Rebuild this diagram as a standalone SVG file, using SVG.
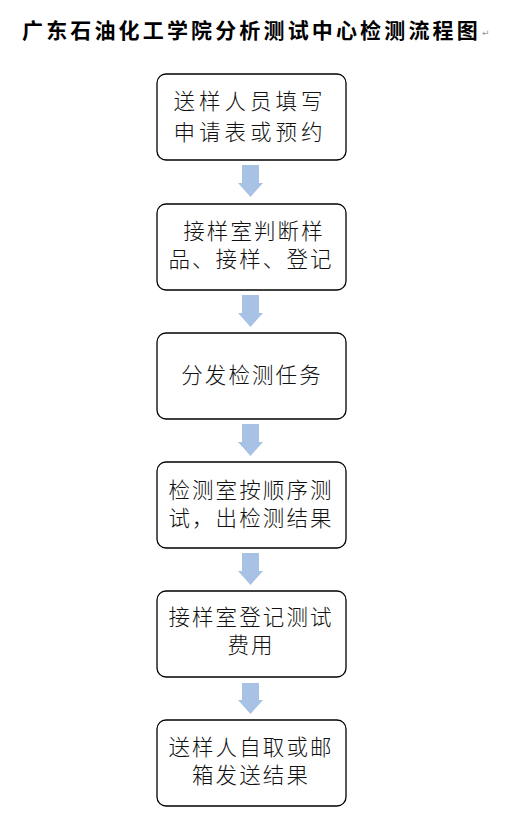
<svg xmlns="http://www.w3.org/2000/svg" width="507" height="831" viewBox="0 0 507 831">
<style>
.box{fill:#fff;stroke:#000;stroke-width:1.3}
.t{font-family:"Noto Sans CJK SC","Noto Sans",sans-serif;font-size:21.5px;fill:#111;text-anchor:middle;font-weight:300}
.arr{fill:#a8c2e6}
.title{font-family:"Noto Sans CJK SC","Noto Sans",sans-serif;font-size:21px;font-weight:bold;fill:#000;letter-spacing:3.15px}
</style>
<rect width="507" height="831" fill="#fff"/>
<g id="title">
<text class="title" x="22" y="38">广东石油化工学院分析测试中心检测流程图</text>
<text x="482" y="36" font-family="'DejaVu Sans',sans-serif" font-size="9" fill="#999">↵</text>
</g>
<g id="connectors">
<polygon class="arr" points="242,165 259,165 259,183 263,183 250.5,197 238,183 242,183"/>
<polygon class="arr" points="242,295 259,295 259,313 263,313 250.5,327 238,313 242,313"/>
<polygon class="arr" points="242,424 259,424 259,442 263,442 250.5,456 238,442 242,442"/>
<polygon class="arr" points="242,553 259,553 259,571 263,571 250.5,585 238,571 242,571"/>
<polygon class="arr" points="242,683 259,683 259,700 263,700 250.5,714 238,700 242,700"/>
</g>
<g id="n1">
<rect class="box" x="157" y="74" width="189" height="86" rx="9"/>
<text class="t" x="250" y="109" letter-spacing="4">送样人员填写</text>
<text class="t" x="250" y="140" letter-spacing="4">申请表或预约</text>
</g>
<g id="n2">
<rect class="box" x="157" y="204" width="189" height="86" rx="9"/>
<text class="t" x="254" y="239" letter-spacing="2.1">接样室判断样</text>
<text class="t" x="251" y="267" letter-spacing="2.1">品、接样、登记</text>
</g>
<g id="n3">
<rect class="box" x="157" y="333" width="189" height="86" rx="9"/>
<text class="t" x="252" y="383" letter-spacing="2.1">分发检测任务</text>
</g>
<g id="n4">
<rect class="box" x="157" y="462" width="189" height="86" rx="9"/>
<text class="t" x="251" y="498" letter-spacing="2.1">检测室按顺序测</text>
<text class="t" x="251" y="526" letter-spacing="2.1">试，出检测结果</text>
</g>
<g id="n5">
<rect class="box" x="157" y="591" width="189" height="86" rx="9"/>
<text class="t" x="251" y="625" letter-spacing="2.1">接样室登记测试</text>
<text class="t" x="251" y="653" letter-spacing="2.1">费用</text>
</g>
<g id="n6">
<rect class="box" x="157" y="720" width="189" height="86" rx="9"/>
<text class="t" x="251" y="755" letter-spacing="2.1">送样人自取或邮</text>
<text class="t" x="251" y="783" letter-spacing="2.1">箱发送结果</text>
</g>
</svg>
